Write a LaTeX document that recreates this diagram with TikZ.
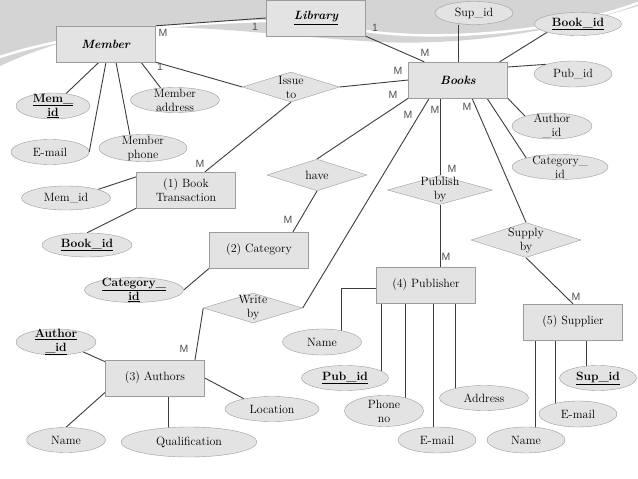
\documentclass[tikz,border=0pt]{standalone}
\usepackage{fontspec}
\newfontfamily\cardfont{Liberation Sans}
\usepackage{xcolor}
\definecolor{boxfill}{HTML}{E3E3E3}
\definecolor{boxedge}{HTML}{9C9C9C}
\definecolor{inkline}{HTML}{3C3C3C}
\definecolor{cardgrey}{HTML}{505050}
\definecolor{swoosh}{HTML}{D4D4D4}
\usetikzlibrary{shapes.geometric,backgrounds}

\begin{document}
\begin{tikzpicture}[x=1pt,y=-1pt,font=\fontsize{12}{14}\selectfont,
  ent/.style={rectangle,draw=boxedge,fill=boxfill,minimum width=99pt,minimum height=36pt,inner sep=2pt,align=center},
  rel/.style={diamond,draw=boxedge,fill=boxfill,minimum width=98pt,minimum height=30pt,inner sep=0pt},
  attr/.style={ellipse,draw=boxedge,fill=boxfill,inner sep=0pt,align=center},
  lt/.style={align=center,inner sep=0pt},
  card/.style={font=\cardfont\fontsize{10.5}{10.5}\selectfont,text=cardgrey,inner sep=1pt},
  lnk/.style={draw=inkline,line width=0.9pt}]
  \useasboundingbox (0,0) rectangle (638,479);
  \begin{scope}[on background layer]
    \fill[white] (0,0) rectangle (638,479);
    \fill[swoosh] (0,0) -- (638,0) -- (638,6) .. controls (560,30) and (470,46) .. (380,42)
      .. controls (300,38) and (200,24) .. (140,28) .. controls (80,33) and (30,52) .. (0,66) -- cycle;
    \draw[white,line width=2.5pt] (0,57) .. controls (50,40) and (140,24) .. (268,21);
    \draw[white,line width=2.5pt] (366,31) .. controls (440,42) and (560,32) .. (638,3);
  \end{scope}

  % entities
  \node[ent] (library) at (316,18) {\textbf{\textit{\underline{Library}}}};
  \node[ent] (member) at (106,44) {\textbf{\textit{Member}}};
  \node[ent] (books) at (458,80) {\textbf{\textit{Books}}};
  \node[ent] (trans) at (186,190) {(\oldstylenums{1}) Book\\Transaction};
  \node[ent] (category) at (259,250) {(\oldstylenums{2}) Category};
  \node[ent] (authors) at (155,378) {(\oldstylenums{3}) Authors};
  \node[ent] (publisher) at (426,285) {(\oldstylenums{4}) Publisher};
  \node[ent] (supplier) at (573,322) {(\oldstylenums{5}) Supplier};

  % relationships
  \node[rel,minimum width=97pt,label={[lt]center:{Issue\\to}}] (issue) at (291,87) {};
  \node[rel,minimum width=100pt] (have) at (317,175) {have};
  \node[rel,minimum width=105pt,minimum height=29pt,label={[lt]center:{Publish\\by}}] (publishby) at (440,190) {};
  \node[rel,minimum width=110pt,minimum height=35pt,label={[lt]center:{Supply\\by}}] (supplyby) at (526,240) {};
  \node[rel,minimum width=99pt,label={[lt]center:{Write\\by}}] (writeby) at (253,308) {};

  % attributes
  \node[attr,minimum width=74pt,minimum height=26pt,label={[lt]center:{\underline{\textbf{Mem\_}}\\\underline{\textbf{id}}}}] (memid1) at (53,106) {};
  \node[attr,minimum width=89pt,minimum height=25pt,label={[lt]center:{Member\\address}}] (maddr) at (175,100) {};
  \node[attr,minimum width=78pt,minimum height=25pt] (email1) at (50,152) {E-mail};
  \node[attr,minimum width=88pt,minimum height=27pt,label={[lt]center:{Member\\phone}}] (mphone) at (143,148) {};
  \node[attr,minimum width=78pt,minimum height=23pt] (supid1) at (474,13) {Sup\_id};
  \node[attr,minimum width=87pt,minimum height=23pt] (bookid1) at (578,24) {\underline{\textbf{Book\_id}}};
  \node[attr,minimum width=78pt,minimum height=26pt] (pubid1) at (573,74) {Pub\_id};
  \node[attr,minimum width=80pt,minimum height=26pt,label={[lt]center:{Author\\\_id}}] (authid2) at (552,126) {};
  \node[attr,minimum width=96pt,minimum height=25pt,label={[lt]center:{Category\_\\id}}] (catid2) at (560,167) {};
  \node[attr,minimum width=89pt,minimum height=24pt] (memid2) at (66,198) {Mem\_id};
  \node[attr,minimum width=90pt,minimum height=24pt] (bookid2) at (87,245) {\underline{\textbf{Book\_id}}};
  \node[attr,minimum width=99pt,minimum height=25pt,label={[lt]center:{\underline{\textbf{Category\_}}\\\underline{\textbf{id}}}}] (catid1) at (134,290) {};
  \node[attr,minimum width=80pt,minimum height=26pt,label={[lt]center:{\underline{\textbf{Author}}\\\underline{\textbf{\_id}}}}] (authid1) at (56,342) {};
  \node[attr,minimum width=79pt,minimum height=25pt] (aname) at (66,440) {Name};
  \node[attr,minimum width=136pt,minimum height=30pt] (qual) at (189,442) {Qualification};
  \node[attr,minimum width=94pt,minimum height=25pt] (loc) at (272,409) {Location};
  \node[attr,minimum width=79pt,minimum height=26pt] (pname) at (322,342) {Name};
  \node[attr,minimum width=87pt,minimum height=25pt] (pubid2) at (345,378) {\underline{\textbf{Pub\_id}}};
  \node[attr,minimum width=79pt,minimum height=31pt,label={[lt]center:{Phone\\no}}] (phone) at (384,411) {};
  \node[attr,minimum width=89pt,minimum height=25pt] (addr) at (484,398) {Address};
  \node[attr,minimum width=78pt,minimum height=26pt] (email2) at (437,440) {E-mail};
  \node[attr,minimum width=78pt,minimum height=26pt] (sname) at (526,440) {Name};
  \node[attr,minimum width=78pt,minimum height=26pt] (semail) at (578,414) {E-mail};
  \node[attr,minimum width=77pt,minimum height=25pt] (supid2) at (598,378) {\underline{\textbf{Sup\_id}}};

  % cardinalities
  \node[card] (c1) at (163,33) {M};
  \node[card] (c2) at (255,27) {1};
  \node[card] (c3) at (375,28) {1};
  \node[card] (c4) at (425,53) {M};
  \node[card] (c5) at (160,67) {1};
  \node[card] (c6) at (398,71) {M};
  \node[card] (c7) at (393,95) {M};
  \node[card] (c8) at (200,164) {M};
  \node[card] (c9) at (408,115) {M};
  \node[card] (c10) at (435,110) {M};
  \node[card] (c11) at (467,107) {M};
  \node[card] (c12) at (452,169) {M};
  \node[card] (c13) at (288,220) {M};
  \node[card] (c14) at (446,257) {M};
  \node[card] (c15) at (576,297) {M};
  \node[card] (c16) at (184,349) {M};

  \begin{scope}[on background layer]
    \draw[lnk] (member.north east) -- (library.west);
    \draw[lnk] (library.south east) -- ([xshift=16pt]books.north west);
    \draw[lnk] (member.south east) -- (issue.west);
    \draw[lnk] (issue.east) -- (books.west);
    \draw[lnk] (issue.south) -- ([xshift=19pt]trans.north);
    \draw[lnk] (books.south west) -- (have.north);
    \draw[lnk] (have.south) -- ([xshift=34pt]category.north);
    \draw[lnk] ([xshift=21pt]books.south west) -- (writeby.east);
    \draw[lnk] (writeby.west) -- ([xshift=40pt]authors.north);
    \draw[lnk] (publishby.north |- books.south) -- (publishby.north);
    \draw[lnk] (publishby.south) -- (publishby.south |- publisher.north);
    \draw[lnk] ([xshift=14pt]books.south) -- (supplyby.north);
    \draw[lnk] (supplyby.south) -- (supplier.north);
    % attribute links
    \draw[lnk] ([xshift=-7pt]member.south) -- (memid1);
    \draw[lnk] (member.south) -- (email1.east);
    \draw[lnk] ([xshift=10pt]member.south) -- (mphone.135);
    \draw[lnk] ([xshift=35pt]member.south) -- (maddr.140);
    \draw[lnk] (books.north) -- (books.north |- supid1.south);
    \draw[lnk] ([xshift=-8pt]books.north east) -- (bookid1.195);
    \draw[lnk] ([yshift=13pt]books.east) -- (pubid1.160);
    \draw[lnk] (books.south east) -- (authid2.160);
    \draw[lnk] ([xshift=29pt]books.south) -- (catid2.165);
    \draw[lnk] ([yshift=-5pt]trans.north west) -- (memid2.15);
    \draw[lnk] (trans.south west) -- (bookid2.north);
    \draw[lnk] (category.south west) -- (catid1.east);
    \draw[lnk] ([yshift=-2pt]authors.north west) -- (authid1.-20);
    \draw[lnk] ([yshift=4pt]authors.south west) -- (aname.north);
    \draw[lnk] ([xshift=13pt]authors.south) -- ([xshift=13pt]authors.south |- qual.center);
    \draw[lnk] (authors.east) -- (loc.160);
    \draw[lnk] ([yshift=-3pt]publisher.west) -| ([xshift=19pt]pname.center);
    \draw[lnk] ([xshift=5pt]publisher.south west) -- ([xshift=5pt]publisher.south west |- pubid2.center);
    \draw[lnk] ([xshift=29pt]publisher.south west) -- ([xshift=29pt]publisher.south west |- phone.center);
    \draw[lnk] ([xshift=57pt]publisher.south west) -- ([xshift=57pt]publisher.south west |- email2.center);
    \draw[lnk] ([xshift=79pt]publisher.south west) -- ([xshift=79pt]publisher.south west |- addr.center);
    \draw[lnk] ([xshift=12pt]supplier.south west) -- ([xshift=12pt]supplier.south west |- sname.center);
    \draw[lnk] ([xshift=32pt]supplier.south west) -- ([xshift=32pt]supplier.south west |- semail.center);
    \draw[lnk] ([xshift=63pt]supplier.south west) -- ([xshift=63pt]supplier.south west |- supid2.center);
  \end{scope}
\end{tikzpicture}
\end{document}
